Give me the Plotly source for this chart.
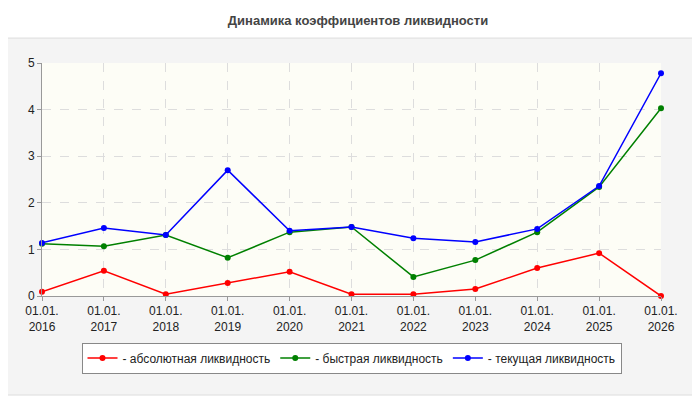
import plotly.graph_objects as go

years = ["2016","2017","2018","2019","2020","2021","2022","2023","2024","2025","2026"]
labels = ["01.01.<br>" + y for y in years]
absolute = [0.09,0.54,0.04,0.28,0.52,0.04,0.04,0.15,0.60,0.92,0.0]
quick = [1.12,1.07,1.31,0.82,1.37,1.48,0.41,0.77,1.37,2.34,4.03]
current = [1.14,1.46,1.31,2.70,1.40,1.48,1.24,1.16,1.44,2.36,4.78]

x = list(range(len(years)))
fig = go.Figure()
for name, vals, col in [("- абсолютная ликвидность", absolute, "#ff0000"),
                        ("- быстрая ликвидность", quick, "#008000"),
                        ("- текущая ликвидность", current, "#0000ff")]:
    fig.add_trace(go.Scatter(x=x, y=vals, name=name, mode="lines+markers",
                             line=dict(color=col, width=1.5),
                             marker=dict(color=col, size=6), cliponaxis=False))

fig.add_shape(type="rect", xref="paper", yref="paper", x0=-0.065, x1=1.06, y0=-0.425, y1=1.107,
              fillcolor="#f4f4f4", line=dict(color="#dddddd", width=1), layer="below")
fig.add_shape(type="rect", xref="x domain", yref="y domain", x0=0, x1=1, y0=0, y1=1,
              fillcolor="#fdfdf6", line=dict(width=0), layer="below")
fig.update_layout(
    width=700, height=400, margin=dict(l=34, r=47, t=55, b=112),
    paper_bgcolor="white", plot_bgcolor="#fdfdf6",
    title=dict(text="<b>Динамика коэффициентов ликвидности</b>", x=0.5, xanchor="center",
               y=0.97, yanchor="middle", yref="container",
               font=dict(family="Arial, Liberation Sans", size=13, color="#444444")),
    font=dict(family="Arial, Liberation Sans", size=12, color="#222222"),
    xaxis=dict(range=[0, 10], tickvals=x, ticktext=labels, showgrid=True,
               gridcolor="#dddddd", griddash="dash", zeroline=False, showline=True,
               linecolor="#999999", ticks="outside", ticklen=4, tickcolor="#999999"),
    yaxis=dict(range=[0, 5], dtick=1, showgrid=True, gridcolor="#dddddd", griddash="dash",
               zeroline=False, showline=True, linecolor="#999999", ticks="outside",
               ticklen=4, tickcolor="#999999"),
    legend=dict(orientation="h", x=0.5, xanchor="center", y=-0.2, yanchor="top",
                bgcolor="white", bordercolor="#888888", borderwidth=1,
                font=dict(size=12), itemwidth=30),
)
fig.write_html("out.html")
